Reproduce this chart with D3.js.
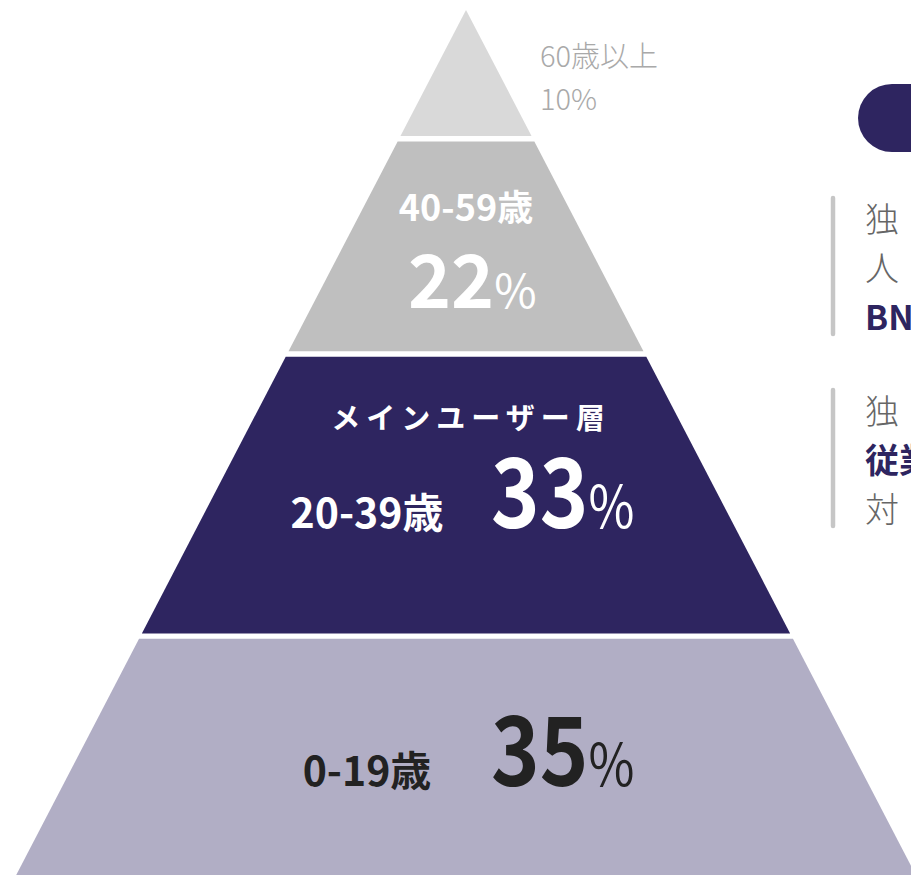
<!DOCTYPE html>
<html><head><meta charset="utf-8">
<script src="https://cdn.jsdelivr.net/npm/d3@7/dist/d3.min.js"></script>
<style>
html,body{margin:0;padding:0;background:#fff;overflow:hidden;}
svg{display:block;font-family:"Noto Sans CJK JP","Noto Sans",sans-serif;}
</style></head>
<body>
<svg id="chart" width="911" height="875"></svg>
<script>
const categories = ["60歳以上", "40-59歳", "20-39歳", "0-19歳"];
const values = [10, 22, 33, 35];
const colors = ["#d9d9d9", "#bfbfbf", "#2e2560", "#b1aec5"];
const highlightLabel = "メインユーザー層";
const sideLinesA = ["独", "人", "BN"];
const sideLinesB = ["独", "従業", "対"];

const svg = d3.select("#chart");
const cx = 466, apexY = 10;

const total = d3.sum(values);
const cum = d3.cumsum(values);
const starts = values.map((v, i) => cum[i] - v);

const y = d3.scalePow().exponent(0.845).domain([0, total]).range([apexY, 911]);
const half = d3.scaleLinear().domain([apexY, 911]).range([0, 468.5]);
const gap = 5.4;

const layers = values.map((v, i) => {
  const top = i === 0 ? apexY : y(starts[i]) + gap / 2;
  const bot = y(cum[i]) - gap / 2;
  return {cat: categories[i], v, top, bot, color: colors[i]};
});

svg.selectAll("path.layer").data(layers).join("path")
  .attr("class", "layer")
  .attr("fill", d => d.color)
  .attr("d", d => {
    const ht = half(d.top), hb = half(d.bot);
    return `M${cx - ht},${d.top}L${cx + ht},${d.top}L${cx + hb},${d.bot}L${cx - hb},${d.bot}Z`;
  });

// Layer 1 label (outside)
const L0 = layers[0];
svg.append("text").attr("x", 540).attr("y", 67)
  .attr("font-size", 29).attr("font-weight", 300).attr("fill", "#a9a9a9")
  .text(L0.cat);
svg.append("text").attr("x", 540).attr("y", 110)
  .attr("font-size", 29).attr("font-weight", 300).attr("fill", "#a9a9a9")
  .text(L0.v + "%");

// Layer 2
const L1 = layers[1];
svg.append("text").attr("x", 466).attr("y", L1.top + 80).attr("text-anchor", "middle")
  .attr("font-size", 36).attr("font-weight", 700).attr("fill", "#fff")
  .text(L1.cat);
const t1 = svg.append("text").attr("x", 408).attr("y", L1.top + 167)
  .attr("fill", "#fff").attr("font-weight", 700);
t1.append("tspan").attr("font-size", 73).text(L1.v);
t1.append("tspan").attr("font-size", 46).attr("font-weight", 400).text("%");

// Layer 3
const L2 = layers[2];
svg.append("text").attr("x", 471).attr("y", L2.top + 72).attr("text-anchor", "middle")
  .attr("font-size", 29).attr("font-weight", 700).attr("fill", "#fff")
  .attr("letter-spacing", 6)
  .text(highlightLabel);
svg.append("text").attr("x", 367).attr("y", L2.top + 171).attr("text-anchor", "middle")
  .attr("font-size", 41).attr("font-weight", 700).attr("fill", "#fff")
  .text(L2.cat);
const t2 = svg.append("text")
  .attr("transform", `translate(491,${L2.top + 171}) scale(0.86,1)`)
  .attr("fill", "#fff").attr("font-weight", 700);
t2.append("tspan").attr("font-size", 96).text(L2.v);
t2.append("tspan").attr("font-size", 58).attr("font-weight", 400).text("%");

// Layer 4
const L3 = layers[3];
svg.append("text").attr("x", 367).attr("y", L3.top + 147).attr("text-anchor", "middle")
  .attr("font-size", 41).attr("font-weight", 700).attr("fill", "#222")
  .text(L3.cat);
const t3 = svg.append("text")
  .attr("transform", `translate(491,${L3.top + 147}) scale(0.86,1)`)
  .attr("fill", "#222").attr("font-weight", 700);
t3.append("tspan").attr("font-size", 96).text(L3.v);
t3.append("tspan").attr("font-size", 58).attr("font-weight", 400).text("%");

// Right side panel (clipped by viewport)
svg.append("rect").attr("x", 858).attr("y", 84).attr("width", 200).attr("height", 68)
  .attr("rx", 34).attr("fill", "#2e2560");

function block(lines, y0, boldIdx) {
  svg.append("line").attr("x1", 833).attr("x2", 833).attr("y1", y0 - 22).attr("y2", y0 + 114)
    .attr("stroke", "#c6c6c6").attr("stroke-width", 4.5).attr("stroke-linecap", "round");
  lines.forEach((s, i) => {
    svg.append("text").attr("x", 865).attr("y", y0 + 12 + i * 49)
      .attr("font-size", 34)
      .attr("font-weight", i === boldIdx ? 700 : 300)
      .attr("fill", i === boldIdx ? "#2e2560" : "#666")
      .text(s);
  });
}
block(sideLinesA, 220, 2);
block(sideLinesB, 412, 1);
</script>
</body></html>
